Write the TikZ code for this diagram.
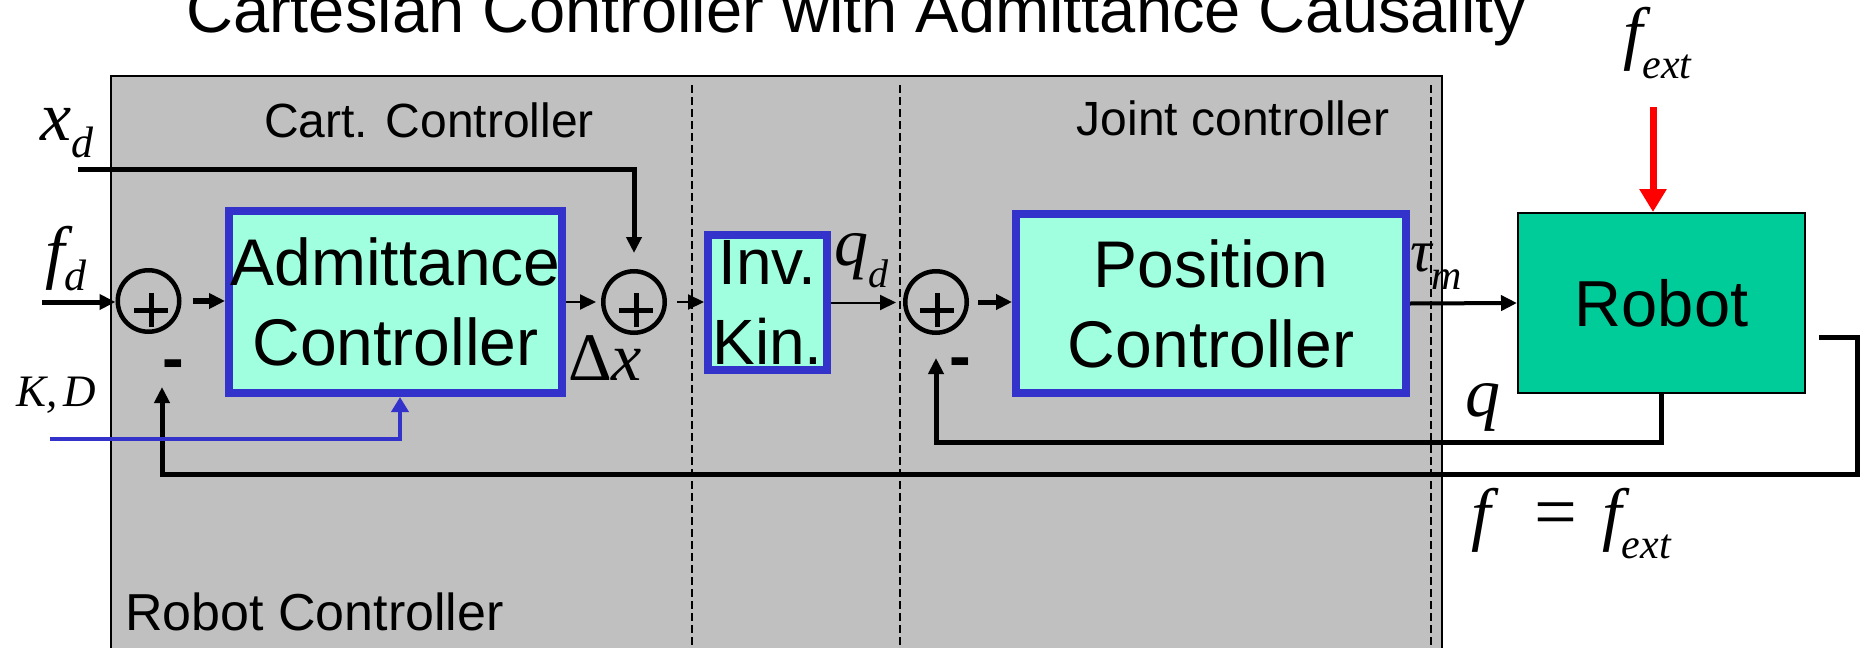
\documentclass[tikz,border=0pt]{standalone}
\usepackage{fontspec}
\setmainfont{Liberation Sans}
\newfontfamily\tms{Liberation Serif}
\usetikzlibrary{arrows.meta}
\definecolor{panelgray}{RGB}{192,192,192}
\definecolor{mint}{RGB}{160,255,222}
\definecolor{bblue}{RGB}{51,51,204}
\definecolor{robgreen}{RGB}{0,204,153}
\newcommand\fs[1]{\fontsize{#1}{#1}\selectfont}
\newcommand\subsc[3]{\raisebox{-#1pt}{\fs{#2}#3}}
\begin{document}
\begin{tikzpicture}[x=1pt,y=-1pt,
  blk/.style={draw=bblue, line width=8pt, fill=mint, inner sep=0pt, align=center},
  sumc/.style={circle, draw, line width=4.5pt, minimum size=61.5pt, inner sep=0pt},
  plusbar/.style={line width=5pt},
  conn/.style={line width=5pt, -{Triangle[length=16pt,width=15pt]}},
  thinconn/.style={line width=2pt, -{Triangle[length=16pt,width=15pt]}},
  bconn/.style={draw=bblue, line width=4.5pt, -{Triangle[length=15pt,width=17pt]}},
  rconn/.style={draw=red, line width=7pt, -{Triangle[length=23pt,width=26pt]}},
  sep/.style={line width=1.5pt, dash pattern=on 8pt off 4pt},
  lab/.style={inner sep=0pt, anchor=base west},
]
\useasboundingbox (0,0) rectangle (1861,648);
% panel
\fill[panelgray] (111,76) rectangle (1442,648);
\draw[line width=2pt] (111,648) -- (111,76) -- (1442,76) -- (1442,648);
\draw[sep] (692,85) -- (692,648);
\draw[sep] (900,85) -- (900,648);
\draw[sep] (1431,85) -- (1431,648);

% texts
\node[lab, font=\fs{65}] (title) at (186,32) {Cartesian Controller with Admittance Causality};
\node[inner sep=0pt, anchor=base, font=\fs{48}] (cartlab) at (429,137) {Cart. Controller};
\node[inner sep=0pt, anchor=base, font=\fs{48}] (jointlab) at (1233,135) {Joint controller};
\node[lab, font=\fs{52}] (rclab) at (125,630) {Robot Controller};

% blocks
\node[blk, minimum width=333pt, minimum height=182pt, font=\fontsize{66}{80}\selectfont] (adm) at (395.5,302) {Admittance\\Controller};
\node[blk, minimum width=119pt, minimum height=135pt, font=\fontsize{64}{80}\selectfont] (ik) at (767.5,302.5) {Inv.\\Kin.};
\node[blk, minimum width=390pt, minimum height=179pt, font=\fontsize{66}{80}\selectfont] (pc) at (1211,303.5) {Position\\Controller};
\node[draw, line width=2pt, fill=robgreen, inner sep=0pt, minimum width=287pt, minimum height=180pt, font=\fs{65}] (robot) at (1661.5,303) {Robot};

% summing junctions
\node[sumc] (s1) at (148.5,301) {};
\node[sumc] (s2) at (634,302) {};
\node[sumc] (s3) at (936,302) {};
\draw[plusbar] (134,310) -- (168,310) (151,293) -- (151,327);
\draw[plusbar] (619,310) -- (653,310) (636,293) -- (636,327);
\draw[plusbar] (920,310) -- (954,310) (937,293) -- (937,327);
\node[lab, font=\bfseries\fs{65}] (m1) at (162,380.5) {-};
\node[lab, font=\bfseries\fs{65}] (m3) at (949,378) {-};

% math labels
\node[lab, font=\fs{70}\tms\itshape] (xd) at (40,140) {x\subsc{17}{44}{d}};
\node[lab, font=\fs{70}\tms\itshape] (fd) at (45,275) {f\subsc{15}{44}{d}};
\node[lab, font=\fs{45}\tms\itshape] (kd) at (16,406) {K,\kern6pt D};
\node[lab, font=\fs{68}\tms] (dx) at (568,380) {Δ\textit{x}};
\node[lab, font=\fs{68}\tms\itshape] (qd) at (834,265) {q\subsc{22}{40}{d}};
\node[lab, font=\fs{60}\tms\itshape] (taum) at (1410,271) {τ\subsc{18}{42}{m}};
\node[lab, font=\fs{70}\tms\itshape] (qlab) at (1465,416) {q};
\node[lab, font=\fs{70}\tms\itshape] (fext) at (1623,56) {f\subsc{22}{42}{ext}};
\node[lab, font=\fs{70}\tms\itshape] (feq) at (1471,537) {f\kern44pt{\upshape\fs{76}=}\kern25pt f\subsc{21}{42}{ext}};

% connectors
\coordinate (xdin) at (78,169);
\coordinate (fdin) at (42,302);
\coordinate (kdin) at (50,439);
\coordinate (fout) at (1819,337);
\coordinate (fcorner) at (1857,474);
\coordinate (fexttop) at (1653,107);

\draw[conn, shorten >=16pt] (xdin) -| (s2.north);
\draw[conn] (fdin) -- (fdin -| s1.west);
\draw[conn, line width=6pt, shorten <=11pt] (s1.east) -- (s1.east -| adm.west);
\draw[thinconn, shorten >=5pt] (adm.east) -- (adm.east -| s2.west);
\draw[thinconn, shorten <=10pt] (s2.east) -- (s2.east -| ik.west);
\draw[thinconn, shorten >=7pt] (ik.east) -- (ik.east -| s3.west);
\draw[conn, shorten <=9pt] (s3.east) -- (s3.east -| pc.west);
\draw[conn, line width=4pt] (pc.east) -- (robot.west);
\draw[conn, shorten >=23pt] (robot.south) |- ([yshift=-107.5pt]s3.south) -- (s3.south);
\draw[conn] (fout) -| (fcorner) -| ([xshift=13.5pt,yshift=-53pt]s1.south);
\draw[bconn] (kdin) -| ([xshift=4.5pt]adm.south);
\draw[rconn] (fexttop) -- (fexttop |- robot.north);
\end{tikzpicture}
\end{document}
